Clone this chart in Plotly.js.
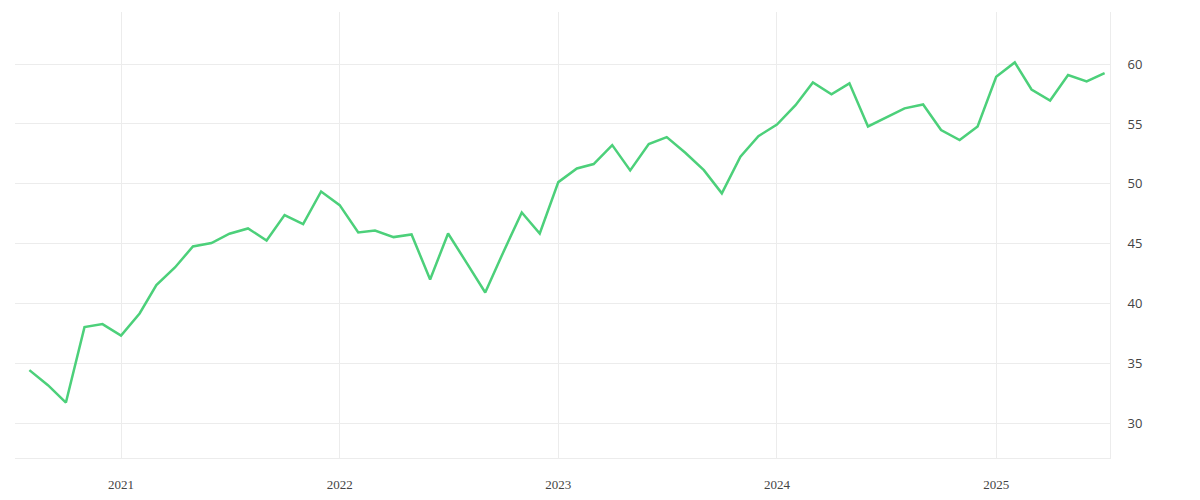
<!DOCTYPE html>
<html>
<head>
<meta charset="utf-8">
<script src="https://cdn.plot.ly/plotly-3.0.1.min.js"></script>
<style>html,body{margin:0;padding:0;background:#fff;}#chart{width:1200px;height:500px;}</style>
</head>
<body>
<div id="chart"></div>
<script>
const months = [
  '2020-08-01','2020-09-01','2020-10-01','2020-11-01','2020-12-01',
  '2021-01-01','2021-02-01','2021-03-01','2021-04-01','2021-05-01','2021-06-01',
  '2021-07-01','2021-08-01','2021-09-01','2021-10-01','2021-11-01','2021-12-01',
  '2022-01-01','2022-02-01','2022-03-01','2022-04-01','2022-05-01','2022-06-01',
  '2022-07-01','2022-08-01','2022-09-01','2022-10-01','2022-11-01','2022-12-01',
  '2023-01-01','2023-02-01','2023-03-01','2023-04-01','2023-05-01','2023-06-01',
  '2023-07-01','2023-08-01','2023-09-01','2023-10-01','2023-11-01','2023-12-01',
  '2024-01-01','2024-02-01','2024-03-01','2024-04-01','2024-05-01','2024-06-01',
  '2024-07-01','2024-08-01','2024-09-01','2024-10-01','2024-11-01','2024-12-01',
  '2025-01-01','2025-02-01','2025-03-01','2025-04-01','2025-05-01','2025-06-01',
  '2025-07-01'
];
const values = [
  34.44, 33.18, 31.73, 38.03, 38.28,
  37.33, 39.17, 41.54, 43.01, 44.77, 45.05,
  45.83, 46.27, 45.27, 47.39, 46.63, 49.36,
  48.22, 45.94, 46.10, 45.55, 45.77, 42.01,
  45.85, 43.40, 40.92, 44.27, 47.61, 45.85,
  50.14, 51.28, 51.65, 53.23, 51.12, 53.32,
  53.90, 52.59, 51.14, 49.20, 52.26, 53.98,
  54.95, 56.57, 58.47, 57.47, 58.39, 54.79,
  55.55, 56.30, 56.63, 54.49, 53.65, 54.79,
  58.94, 60.14, 57.88, 56.96, 59.08, 58.55,
  59.25
];
const xTickVals = ['2021-01-01','2022-01-01','2023-01-01','2024-01-01','2025-01-01'];
const xTickText = ['2021','2022','2023','2024','2025'];
const yTickVals = [30, 35, 40, 45, 50, 55, 60];

const trace = {
  x: months,
  y: values,
  type: 'scatter',
  mode: 'lines',
  line: {color: '#4cd07a', width: 2.5},
  hoverinfo: 'x+y'
};

const layout = {
  width: 1200,
  height: 500,
  margin: {l: 15, r: 90, t: 12, b: 42},
  paper_bgcolor: '#ffffff',
  plot_bgcolor: '#ffffff',
  showlegend: false,
  xaxis: {
    type: 'date',
    range: ['2020-07-08', '2025-07-10'],
    tickvals: xTickVals,
    ticktext: xTickText,
    showgrid: true,
    gridcolor: '#ececec',
    gridwidth: 1,
    showline: true,
    linecolor: '#ececec',
    linewidth: 1,
    zeroline: false,
    ticks: '',
    ticklabelstandoff: 14,
    tickfont: {family: 'Liberation Serif, DejaVu Serif, serif', size: 13, color: '#444'}
  },
  yaxis: {
    side: 'right',
    range: [27.1, 64.35],
    tickvals: yTickVals,
    showgrid: true,
    gridcolor: '#ececec',
    gridwidth: 1,
    showline: true,
    linecolor: '#ececec',
    linewidth: 1,
    zeroline: false,
    ticks: '',
    ticklabelstandoff: 14,
    tickfont: {family: 'Open Sans, Noto Sans, sans-serif', size: 13, color: '#444'}
  }
};

Plotly.newPlot('chart', [trace], layout, {displayModeBar: false, staticPlot: true});
</script>
</body>
</html>
